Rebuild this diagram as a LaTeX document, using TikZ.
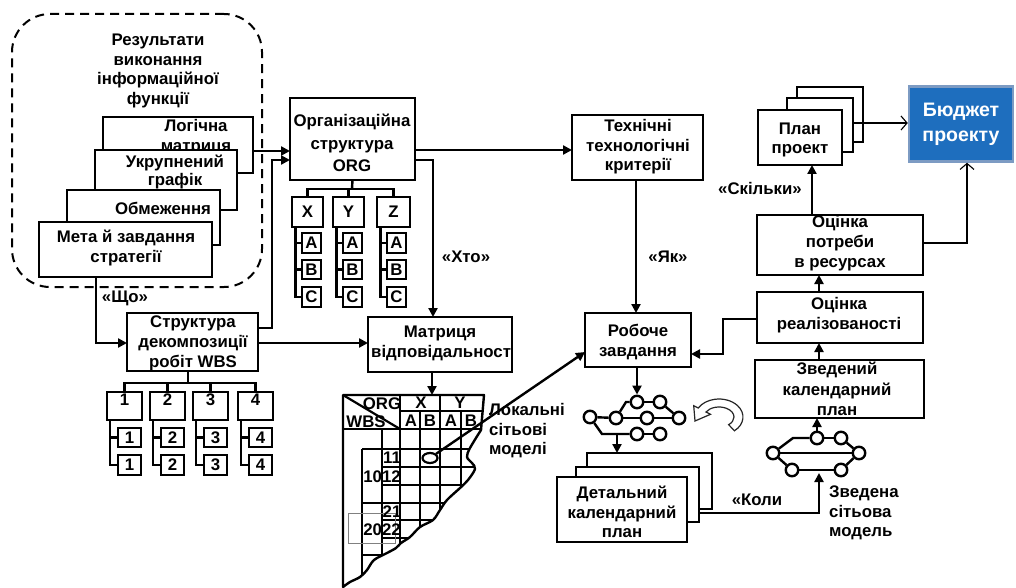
\documentclass[tikz,border=0pt]{standalone}
\usepackage{fontspec}
\setmainfont{Liberation Sans}
\usetikzlibrary{arrows.meta,shapes.geometric,calc}

% rectangle node given by its corners: [options]{name}{x1}{y1}{x2}{y2}{text}
\newcommand{\rectnode}[7][]{\node[box,minimum width={(#5)-(#3)},minimum height={(#6)-(#4)},#1] (#2) at ({((#3)+(#5))/2},{((#4)+(#6))/2}) {#7};}

\begin{document}
\begin{tikzpicture}[x=1pt,y=-1pt,
  every node/.style={font=\fontsize{16.8}{19.5}\selectfont\bfseries},
  box/.style={draw, line width=2.4pt, fill=white, inner sep=0pt, outer sep=0pt, rectangle},
  txt/.style={align=center, inner sep=0pt},
  conn/.style={line width=2.4pt},
  arr/.style={conn, -{Triangle[length=9pt,width=9pt]}},
  thinarr/.style={line width=1.1pt, -{Straight Barb[length=6pt,width=14pt,line width=1.1pt]}},
  netnode/.style={circle, draw, fill=white, line width=2.4pt, minimum size=12.5pt, inner sep=0pt},
  toplabel/.style={txt, anchor=north, yshift=-2pt}
]
\useasboundingbox (0,0) rectangle (1016,588);

% ---------- information results group ----------
\node[draw, dashed, dash pattern=on 9pt off 6pt, line width=2pt, rounded corners=38pt,
      minimum width=250pt, minimum height=273pt, inner sep=0pt] (group) at (137,150.5) {};
\node[txt] (grouptitle) at (158,71) {Результати\\виконання\\інформаційної\\функції};

\rectnode{s1}{103}{117}{253}{173}{}
\node[txt] (s1t) at (196,137) {Логічна\\матриця};
\rectnode{s2}{95}{150}{237}{210}{}
\node[txt, font=\fontsize{16.8}{18}\selectfont\bfseries] (s2t) at (175,172) {Укрупнений\\графік};
\rectnode{s3}{67}{190}{220}{245}{}
\node[txt] (s3t) at (163,208) {Обмеження};
\rectnode{s4}{39}{222}{212}{277}{}
\node[txt] (s4t) at (126,248) {Мета й завдання\\стратегії};

% ---------- organisational structure ----------
\rectnode{org}{290}{98}{415}{180}{}
\node[txt] (orgt) at (352,143) {Організаційна\\[3pt]структура\\[3pt]ORG};
\coordinate (orgbus) at (352,189);
\rectnode{ox}{292}{197}{323}{227}{X}
\rectnode{oy}{333}{197}{364}{227}{Y}
\rectnode{oz}{377}{197}{410}{227}{Z}
\draw[conn] (org.south) -- (orgbus);
\draw[conn] (ox.north) |- (orgbus) -| (oz.north);
\draw[conn] (oy.north) -- (oy.north |- orgbus);
\foreach \p/\l in {ox/292,oy/333,oz/377}{
  \rectnode{\p a}{\l+10}{233}{\l+29}{253}{A}
  \rectnode{\p b}{\l+10}{260}{\l+29}{279}{B}
  \rectnode{\p c}{\l+10}{287}{\l+29}{307}{C}
  \draw[conn] ([xshift=3.5pt]\p.south west) |- (\p c.west);
  \draw[conn] (\p a.west) -- ++(-6.5,0);
  \draw[conn] (\p b.west) -- ++(-6.5,0);
}

% ---------- work breakdown structure ----------
\rectnode{wbs}{127}{313}{258}{371}{}
\node[txt, font=\fontsize{16.8}{20}\selectfont\bfseries] (wbst) at (193,343) {Структура\\декомпозиції\\робіт WBS};
\coordinate (wbsbus) at (188,383);
\foreach \n/\l in {1/107,2/150,3/193,4/238}{
  \rectnode[label={[toplabel]north:\n}]{w\n}{\l}{392}{\l+35}{420}{}
  \rectnode{w\n a}{\l+11}{428}{\l+34}{447}{\n}
  \rectnode{w\n b}{\l+11}{455}{\l+34}{475}{\n}
  \draw[conn] ([xshift=3pt]w\n.south west) |- (w\n b.west);
  \draw[conn] (w\n a.west) -- ++(-8,0);
}
\draw[conn] (wbs.south -| wbsbus) -- (wbsbus);
\draw[conn] (w1.north) |- (wbsbus) -| (w4.north);
\draw[conn] (w2.north) -- (w2.north |- wbsbus);
\draw[conn] (w3.north) -- (w3.north |- wbsbus);

% ---------- responsibility matrix ----------
\rectnode{matr}{368}{317}{512}{372}{}
\node[txt] (matrt1) at (440,333) {Матриця};
\begin{scope}
  \clip (369,318) rectangle (511,371);
  \node[txt, anchor=west] (matrt2) at (371,353) {відповідальності};
\end{scope}

\begin{scope}
  \clip (343,395) -- (484,395) -- (481,430) -- plot[smooth, tension=0.55] coordinates {(481,430) (470,448) (467,457) (472,463) (475,469) (468,480) (460,488) (447,500) (440,510) (433,520) (420,527) (410,537) (401,543) (396,548) (387,553) (374,560) (367,570) (360,577) (350,582) (343,587)} -- cycle;
  \begin{scope}[line width=2.2pt]
    \draw (343,395) -- (400,429);
    \draw (400,395) -- (400,600);
    \draw (440,395) -- (440,600);
    \draw (420,411) -- (420,600);
    \draw (461,411) -- (461,600);
    \draw (400,411) -- (490,411);
    \draw (343,429) -- (490,429);
    \draw (382,429) -- (382,600);
    \draw (362,449) -- (362,600);
    \foreach \y in {449,503,555} \draw (362,\y) -- (490,\y);
    \foreach \y in {467,485,520,538,572} \draw (382,\y) -- (490,\y);
  \end{scope}
\end{scope}
\draw[line width=2.4pt, line join=round] (343,395) -- (484,395) -- (481,430) -- plot[smooth, tension=0.55] coordinates {(481,430) (470,448) (467,457) (472,463) (475,469) (468,480) (460,488) (447,500) (440,510) (433,520) (420,527) (410,537) (401,543) (396,548) (387,553) (374,560) (367,570) (360,577) (350,582) (343,587)} -- cycle;
\draw[gray, line width=0.8pt] (348,513) rectangle (395,543);
\coordinate (gridtop) at (432,395);
\node[txt] (hORG) at (382,404) {ORG};
\node[txt] (hWBS) at (366,422) {WBS};
\node[txt] (hX) at (421,403) {X};
\node[txt] (hY) at (460,403) {Y};
\node[txt] (hXA) at (411,421) {A};
\node[txt] (hXB) at (430,421) {B};
\node[txt] (hYA) at (451,421) {A};
\node[txt] (hYB) at (471,421) {B};
\node[txt] (r11) at (392,458) {11};
\node[txt] (r1012) at (382,477) {1012};
\node[txt] (r21) at (392,512) {21};
\node[txt] (r2022) at (382,530) {2022};
\node[ellipse, draw, fill=white, line width=2.2pt, minimum width=15pt, minimum height=10pt, inner sep=0pt] (cell) at (430,458) {};

% ---------- technical criteria, work order ----------
\rectnode{tech}{572}{115}{703}{180}{}
\node[txt] (techt) at (638,147) {Технічні\\технологічні\\критерії};
\rectnode{rob}{585}{313}{691}{367}{}
\node[txt] (robt) at (638,342) {Робоче\\завдання};
\node[txt, align=left] (local) at (527,431) {Локальні\\сітьові\\моделі};

% ---------- local network ----------
\node[netnode] (n1) at (590,417) {};
\node[netnode] (n2) at (616,418) {};
\node[netnode] (n3) at (637,402) {};
\node[netnode] (n4) at (660,402) {};
\node[netnode] (n5) at (647,418) {};
\node[netnode] (n6) at (679,418) {};
\node[netnode] (n7) at (637,434) {};
\node[netnode] (n8) at (660,434) {};
\coordinate (nb) at (617,434);
\draw[conn] (n1) -- (n2);
\draw[conn] (n2) -- (626,402) -- (n3);
\draw[conn] (n3) -- (n4);
\draw[conn] (n4) -- (n6);
\draw[conn] (n2) -- (n5);
\draw[conn] (n5) -- (n6);
\draw[conn] (n1) -- (602,434) -- (n7);
\draw[conn] (n7) -- (n8);

% hollow return arrow
\draw[fill=white, line width=1.2pt, draw=black!85] (734.4,430.8)
  arc[start angle=50, end angle=-150, x radius=24, y radius=18]
  -- (693.7,405.7) -- (695,421) -- (710.5,414.3) -- (706,412)
  arc[start angle=-150, end angle=50, x radius=15, y radius=10] -- cycle;

% ---------- detailed schedule stack ----------
\rectnode{detc}{587}{453}{712}{509}{}
\rectnode{detb}{576}{467}{699}{522}{}
\rectnode{deta}{557}{477}{687}{542}{}
\node[txt] (dett) at (622,512) {Детальний\\календарний\\план};

% ---------- summary network ----------
\node[netnode] (m1) at (773,453) {};
\node[netnode] (m2) at (817,438) {};
\node[netnode] (m3) at (841,438) {};
\node[netnode] (m4) at (859,453) {};
\node[netnode] (m5) at (792,470) {};
\node[netnode] (m6) at (841,470) {};
\coordinate (net2in) at (819,473);
\draw[conn] (m1) -- (793,438) -- (m2);
\draw[conn] (m2) -- (m3);
\draw[conn] (m3) -- (m4);
\draw[conn] (m1) -- (m4);
\draw[conn] (m1) -- (m5);
\draw[conn] (m5) -- (m6);
\draw[conn] (m6) -- (m4);
\node[txt, align=left, anchor=west] (sumnet) at (829,513) {Зведена\\сітьова\\модель};

% ---------- right column ----------
\rectnode{zv}{755}{360}{924}{418}{}
\node[txt, font=\fontsize{16.8}{20.5}\selectfont\bfseries] (zvt) at (837,389) {Зведений\\календарний\\план};
\rectnode{oreal}{757}{292}{923}{343}{}
\node[txt] (orealt) at (839,315) {Оцінка\\реалізованості};
\rectnode{opot}{757}{215}{923}{275}{}
\node[txt, font=\fontsize{16.8}{20}\selectfont\bfseries] (opott) at (840,243) {Оцінка\\потреби\\в ресурсах};
\rectnode{planc}{797}{87}{863}{142}{}
\rectnode{planb}{787}{98}{853}{152}{}
\rectnode{plana}{758}{110}{842}{165}{}
\node[txt] (plant) at (800,140) {План\\проект};
\node[draw={rgb,255:red,125;green,155;blue,195}, line width=2.5pt,
      fill={rgb,255:red,30;green,110;blue,190}, text=white, align=center,
      minimum width=104pt, minimum height=75pt, inner sep=0pt,
      font=\fontsize{19.5}{25}\selectfont\bfseries] (budget) at (961,124) {Бюджет\\проекту};

% ---------- labels ----------
\node[txt] (lwhat) at (125,298) {«Що»};
\node[txt] (lwho) at (466,257) {«Хто»};
\node[txt] (lhow) at (668,257) {«Як»};
\node[txt] (lhowmuch) at (760,188) {«Скільки»};
\node[txt] (lwhen) at (757,500) {«Коли};

% ---------- connectors ----------
\draw[arr] (s1.east |- 0,151) -- (org.west |- 0,151);
\draw[arr] (wbs.east |- 0,328) -- (272,328) -- (272,160) -- (org.west |- 0,160);
\draw[arr] (s4.south -| 96,0) -- (96,343) -- (wbs.west |- 0,343);
\draw[arr] (wbs.east |- 0,343) -- (matr.west |- 0,343);
\draw[arr] (org.east |- 0,150) -- (tech.west |- 0,150);
\draw[arr] (org.east |- 0,160) -- (433,160) -- (matr.north -| 433,0);
\draw[arr] (matr.south -| gridtop) -- (gridtop);
\draw[arr] (tech.south -| 636,0) -- (rob.north -| 636,0);
\draw[arr] (cell) -- (rob.west |- 0,352);
\draw[arr] (rob.south -| n3) -- (n3.north);
\draw[arr] (nb) -- (detc.north -| nb);
\draw[arr] (detb.east |- 0,513) -- (819,513) -- (net2in);
\draw[arr] (m2.north) -- (m2.north |- zv.south);
\draw[arr] (zv.north -| 819,0) -- (oreal.south -| 819,0);
\draw[arr] (oreal.west |- 0,319) -- (723,319) -- (723,354) -- (rob.east |- 0,354);
\draw[arr] (oreal.north -| 819,0) -- (opot.south -| 819,0);
\draw[arr] (opot.north -| 812,0) -- (plana.south -| 812,0);
\draw[thinarr] (planb.east |- 0,123) -- (budget.west |- 0,123);
\draw[thinarr] (opot.east |- 0,243) -- (967,243) -- (budget.south -| 967,0);
\end{tikzpicture}
\end{document}
